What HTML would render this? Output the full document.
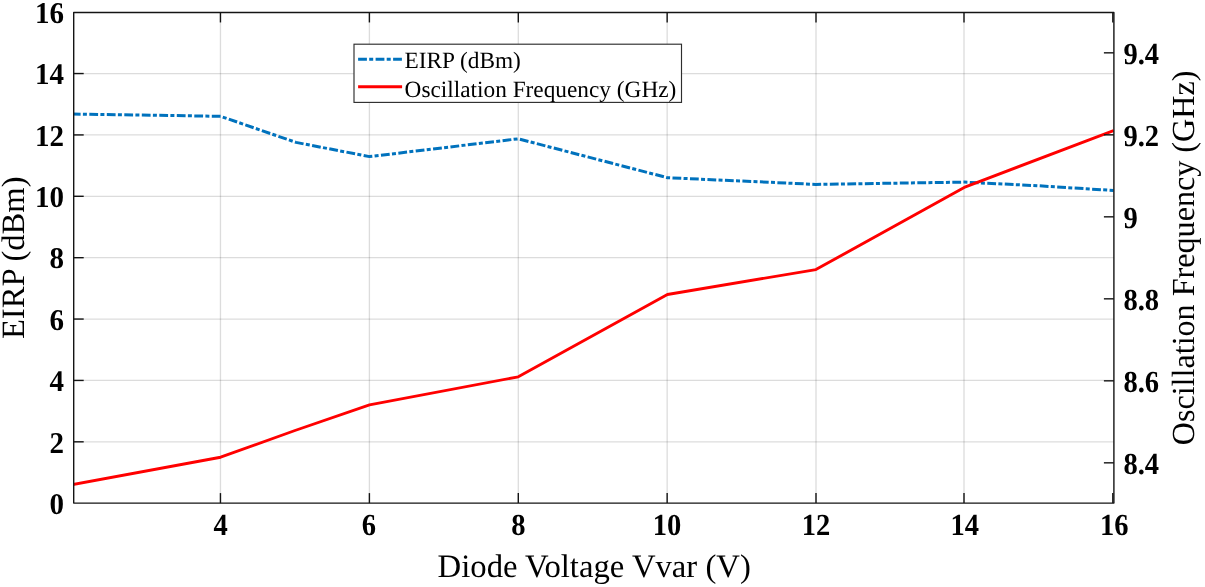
<!DOCTYPE html>
<html lang="en"><head><meta charset="utf-8"><title>EIRP and Oscillation Frequency vs Diode Voltage</title>
<style>html,body{margin:0;padding:0;background:#fff;}body{width:1205px;height:587px;overflow:hidden;}</style></head>
<body>
<svg width="1205" height="587" viewBox="0 0 1205 587" style="display:block;will-change:transform;text-rendering:geometricPrecision;font-family:'Liberation Serif','Times New Roman',serif">
<rect x="0" y="0" width="1205" height="587" fill="#fff"/>
<defs><clipPath id="pc"><rect x="73.7" y="12.45" width="1040.20" height="490.65"/></clipPath></defs>
<g stroke="#262626" stroke-opacity="0.16" stroke-width="1.3" fill="none"><line x1="220.45" y1="12.45" x2="220.45" y2="503.1"/><line x1="369.40" y1="12.45" x2="369.40" y2="503.1"/><line x1="518.30" y1="12.45" x2="518.30" y2="503.1"/><line x1="667.15" y1="12.45" x2="667.15" y2="503.1"/><line x1="816.00" y1="12.45" x2="816.00" y2="503.1"/><line x1="964.00" y1="12.45" x2="964.00" y2="503.1"/><line x1="73.7" y1="441.82" x2="1113.9" y2="441.82"/><line x1="73.7" y1="380.44" x2="1113.9" y2="380.44"/><line x1="73.7" y1="319.06" x2="1113.9" y2="319.06"/><line x1="73.7" y1="257.68" x2="1113.9" y2="257.68"/><line x1="73.7" y1="196.30" x2="1113.9" y2="196.30"/><line x1="73.7" y1="134.92" x2="1113.9" y2="134.92"/><line x1="73.7" y1="73.54" x2="1113.9" y2="73.54"/></g>
<g clip-path="url(#pc)" fill="none" stroke-linejoin="round"><polyline points="71.8,114.0 220.6,116.3 296.0,142.4 369.5,156.6 518.3,138.8 667.4,177.7 815.9,184.4 964.2,182.1 1038.6,185.8 1113.6,190.5" stroke="#0072bd" stroke-width="3" stroke-dasharray="8.8 2.3 4 2.4"/><polyline points="71.8,484.8 220.6,457.2 295.0,430.5 369.5,404.9 518.3,376.8 667.4,294.5 815.9,269.6 964.2,187.4 1113.6,130.5" stroke="#ff0000" stroke-width="2.9"/></g>
<g stroke="#141414" stroke-width="1.4" stroke-linejoin="round" fill="none"><rect x="73.7" y="12.45" width="1040.20" height="490.65"/><line x1="220.45" y1="503.1" x2="220.45" y2="493.1"/><line x1="220.45" y1="12.45" x2="220.45" y2="22.45"/><line x1="369.40" y1="503.1" x2="369.40" y2="493.1"/><line x1="369.40" y1="12.45" x2="369.40" y2="22.45"/><line x1="518.30" y1="503.1" x2="518.30" y2="493.1"/><line x1="518.30" y1="12.45" x2="518.30" y2="22.45"/><line x1="667.15" y1="503.1" x2="667.15" y2="493.1"/><line x1="667.15" y1="12.45" x2="667.15" y2="22.45"/><line x1="816.00" y1="503.1" x2="816.00" y2="493.1"/><line x1="816.00" y1="12.45" x2="816.00" y2="22.45"/><line x1="964.00" y1="503.1" x2="964.00" y2="493.1"/><line x1="964.00" y1="12.45" x2="964.00" y2="22.45"/><line x1="1112.80" y1="503.1" x2="1112.80" y2="493.1"/><line x1="1112.80" y1="12.45" x2="1112.80" y2="22.45"/><line x1="73.7" y1="441.82" x2="83.7" y2="441.82"/><line x1="73.7" y1="380.44" x2="83.7" y2="380.44"/><line x1="73.7" y1="319.06" x2="83.7" y2="319.06"/><line x1="73.7" y1="257.68" x2="83.7" y2="257.68"/><line x1="73.7" y1="196.30" x2="83.7" y2="196.30"/><line x1="73.7" y1="134.92" x2="83.7" y2="134.92"/><line x1="73.7" y1="73.54" x2="83.7" y2="73.54"/><line x1="1113.9" y1="462.83" x2="1103.9" y2="462.83"/><line x1="1113.9" y1="380.83" x2="1103.9" y2="380.83"/><line x1="1113.9" y1="298.83" x2="1103.9" y2="298.83"/><line x1="1113.9" y1="216.83" x2="1103.9" y2="216.83"/><line x1="1113.9" y1="134.83" x2="1103.9" y2="134.83"/><line x1="1113.9" y1="52.83" x2="1103.9" y2="52.83"/></g>
<g font-size="29.3" font-weight="bold" fill="#000"><text transform="translate(220.6 535.3) scale(0.975 1.045)" text-anchor="middle">4</text><text transform="translate(368.9 535.3) scale(0.975 1.045)" text-anchor="middle">6</text><text transform="translate(518.3 535.3) scale(0.975 1.045)" text-anchor="middle">8</text><text transform="translate(667.1 535.3) scale(0.975 1.045)" text-anchor="middle">10</text><text transform="translate(816.0 535.3) scale(0.975 1.045)" text-anchor="middle">12</text><text transform="translate(964.8 535.3) scale(0.975 1.045)" text-anchor="middle">14</text><text transform="translate(1114.3 535.3) scale(0.975 1.045)" text-anchor="middle">16</text><text transform="translate(63.9 513.9) scale(0.99 1.03)" text-anchor="end">0</text><text transform="translate(63.9 452.5) scale(0.99 1.03)" text-anchor="end">2</text><text transform="translate(63.9 391.1) scale(0.99 1.03)" text-anchor="end">4</text><text transform="translate(63.9 329.8) scale(0.99 1.03)" text-anchor="end">6</text><text transform="translate(63.9 268.4) scale(0.99 1.03)" text-anchor="end">8</text><text transform="translate(63.9 207.0) scale(0.99 1.03)" text-anchor="end">10</text><text transform="translate(63.9 145.6) scale(0.99 1.03)" text-anchor="end">12</text><text transform="translate(63.9 84.2) scale(0.99 1.03)" text-anchor="end">14</text><text transform="translate(63.9 22.9) scale(0.99 1.03)" text-anchor="end">16</text><text transform="translate(1123.4 474.1) scale(0.975 1.045)" text-anchor="start">8.4</text><text transform="translate(1123.4 392.1) scale(0.975 1.045)" text-anchor="start">8.6</text><text transform="translate(1123.4 310.1) scale(0.975 1.045)" text-anchor="start">8.8</text><text transform="translate(1123.4 228.1) scale(0.975 1.045)" text-anchor="start">9</text><text transform="translate(1123.4 146.1) scale(0.975 1.045)" text-anchor="start">9.2</text><text transform="translate(1123.4 64.1) scale(0.975 1.045)" text-anchor="start">9.4</text></g>
<g fill="#000"><text x="594.2" y="576.9" font-size="32.7" text-anchor="middle">Diode Voltage Vvar (V)</text><text transform="translate(24.0 257.8) rotate(-90)" font-size="32.58" text-anchor="middle">EIRP (dBm)</text><text transform="translate(1194.0 257.95) rotate(-90)" font-size="32.13" text-anchor="middle">Oscillation Frequency (GHz)</text></g>
<rect x="354.0" y="44.2" width="327.5" height="58.2" fill="#fff" stroke="#2e2e2e" stroke-width="1.15"/>
<line x1="358.1" y1="59.3" x2="402.1" y2="59.3" stroke="#0072bd" stroke-width="3" stroke-dasharray="8.8 2.3 4 2.4"/>
<line x1="358.1" y1="86.8" x2="402.1" y2="86.8" stroke="#ff0000" stroke-width="2.9"/>
<g font-size="23.3" fill="#000"><text x="404.6" y="67.7">EIRP (dBm)</text><text x="404.6" y="96.5">Oscillation Frequency (GHz)</text></g>
</svg>
</body></html>
